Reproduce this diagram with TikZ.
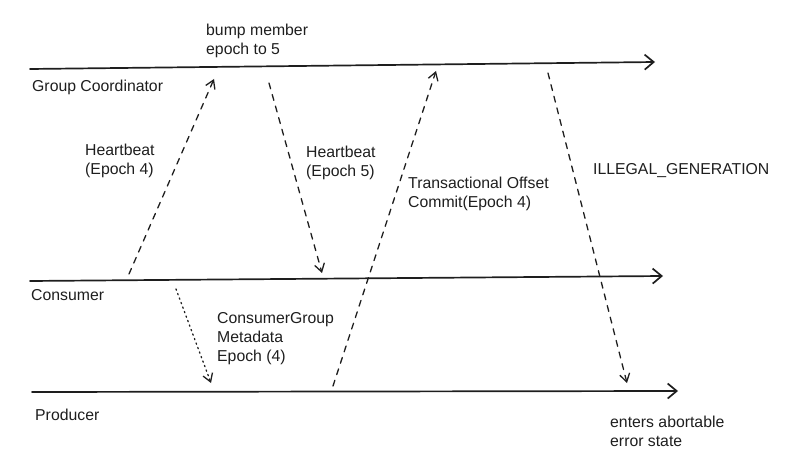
\documentclass[tikz,border=0pt]{standalone}
\usepackage{fontspec}
\setmainfont{Liberation Sans}
\usetikzlibrary{arrows.meta}
\definecolor{ink}{HTML}{1E1E1E}
\begin{document}
\begin{tikzpicture}[x=1pt,y=-1pt,>={Straight Barb[length=9pt,width=15pt]}, font=\fontsize{15.8}{19}\selectfont, line join=round, line cap=round,
	life/.style={draw=ink,line width=1.7pt,->},
	msg/.style={draw=ink,line width=1.3pt,dash pattern=on 6pt off 6pt,-{Straight Barb[length=8pt,width=10pt]}},
	meta/.style={draw=ink,line width=1.3pt,dash pattern=on 1.3pt off 3.5pt,-{Straight Barb[length=8pt,width=10pt]}},
	note/.style={align=left,inner sep=0pt,anchor=west,text=ink}]
	\useasboundingbox (0,0) rectangle (793,473);
	\path
	(30,69)coordinate(G1)
	(655,62)coordinate(G2)
	(30,281)coordinate(C1)
	(663,276)coordinate(C2)
	(32,392)coordinate(P1)
	(678,391)coordinate(P2)
	(129,274)coordinate(HBa)
	(214,79)coordinate(HBb)
	(269,83)coordinate(HCa)
	(322,273)coordinate(HCb)
	(333,386)coordinate(TOa)
	(436,71)coordinate(TOb)
	(548,73)coordinate(IGa)
	(627,383)coordinate(IGb)
	(176,289)coordinate(MDa)
	(211,383)coordinate(MDb)
	;
	% lifelines
	\draw[life] (G1)--(G2);
	\draw[life] (C1)--(C2);
	\draw[life] (P1)--(P2);
	\node[note] (gc) at (32,87) {Group Coordinator};
	\node[note] (cs) at (31,295) {Consumer};
	\node[note] (pr) at (35,415) {Producer};
	% messages
	\draw[msg] (HBa)--(HBb);
	\draw[msg] (HCa)--(HCb);
	\draw[msg] (TOa)--(TOb);
	\draw[msg] (IGa)--(IGb);
	\draw[meta] (MDa)--(MDb);
	\node[note] (bump) at (206,41) {bump member\\epoch to 5};
	\node[note] (hb4) at (85,161) {Heartbeat\\(Epoch 4)};
	\node[note] (hb5) at (306,163) {Heartbeat\\(Epoch 5)};
	\node[note] (toc) at (408,194) {Transactional Offset\\Commit(Epoch 4)};
	\node[note] (ig) at (593,171) {ILLEGAL\_GENERATION};
	\node[note] (cgm) at (217,339) {ConsumerGroup\\Metadata\\Epoch (4)};
	\node[note] (abort) at (610,431) {enters abortable\\error state};
\end{tikzpicture}
\end{document}
